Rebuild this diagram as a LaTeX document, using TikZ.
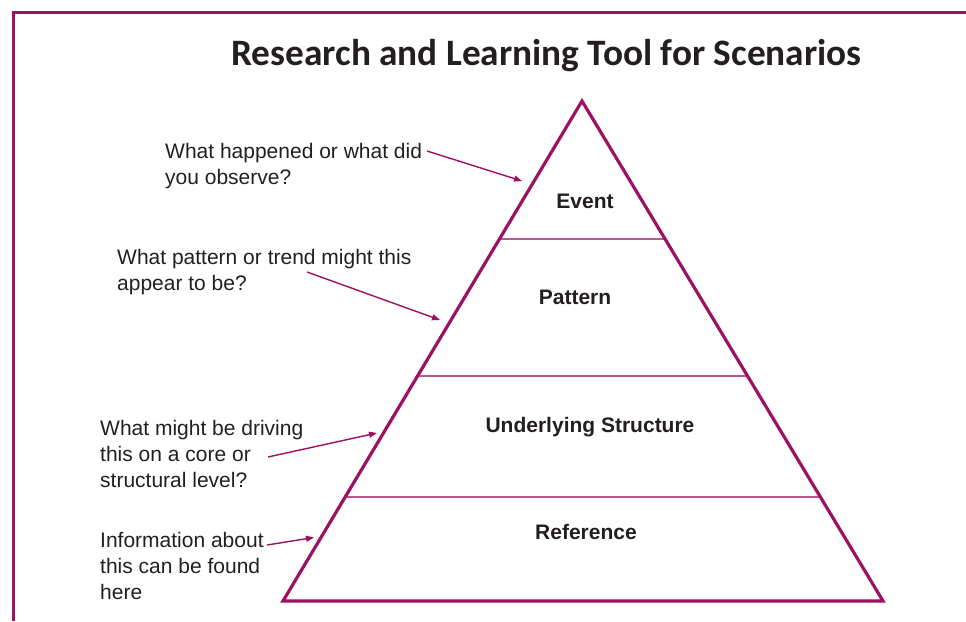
\documentclass[tikz,border=0pt]{standalone}
\usepackage{fontspec}
\setmainfont{Liberation Sans}
\newfontfamily\titlefont{Carlito}
\usepackage{xcolor}
\usetikzlibrary{arrows.meta}
\definecolor{plum}{RGB}{158,16,96}
\definecolor{ink}{RGB}{35,31,32}

\begin{document}
\begin{tikzpicture}[x=1pt,y=-1pt,
	question/.style={anchor=north west,align=left,inner sep=0pt,text=ink,font=\fontsize{21}{26}\selectfont},
	level/.style={anchor=base,inner sep=0pt,text=ink,font=\fontsize{21}{26}\selectfont\bfseries},
	divider/.style={plum!70,line width=1.2pt},
	pointer/.style={plum,line width=1.4pt,-{Triangle[length=8pt,width=6pt]}}]
	\useasboundingbox (0,0) rectangle (966,621);
	% frame
	\draw[plum,line width=3pt] (966,12) -- (13,12) -- (13,621);
	\node[anchor=base,inner sep=0pt,text=ink,font=\titlefont\fontsize{37.3}{44}\selectfont\bfseries] (title) at (546.5,65) {Research and Learning Tool for Scenarios};
	% pyramid
	\coordinate (apex) at (582,101);
	\coordinate (baseL) at (283,601);
	\coordinate (baseR) at (883,601);
	\draw[divider] (499.5,239) -- (665,239);
	\draw[divider] (417.5,376) -- (747.5,376);
	\draw[divider] (345,497) -- (820,497);
	\draw[plum,line width=3.2pt] (apex) -- (baseL) -- (baseR) -- cycle;
	\node[level] (event) at (585,208.5) {Event};
	\node[level] (pattern) at (575,304.5) {Pattern};
	\node[level] (structure) at (590,432.5) {Underlying Structure};
	\node[level] (reference) at (586,539) {Reference};
	% questions
	\node[question] (askEvent) at (165,143.5) {What happened or what did\\you observe?};
	\node[question] (askPattern) at (117,249) {What pattern or trend might this\\appear to be?};
	\node[question] (askStructure) at (100,420) {What might be driving\\this on a core or\\structural level?};
	\node[question] (askReference) at (100,532) {Information about\\this can be found\\here};
	% pointers
	\coordinate (fromEvent) at (427,151);
	\coordinate (toEvent) at (522,181);
	\coordinate (fromPattern) at (307,272);
	\coordinate (toPattern) at (440,320);
	\coordinate (fromStructure) at (268,457);
	\coordinate (toStructure) at (377,433);
	\coordinate (fromReference) at (267,545);
	\coordinate (toReference) at (314,537.5);
	\draw[pointer] (fromEvent) -- (toEvent);
	\draw[pointer] (fromPattern) -- (toPattern);
	\draw[pointer] (fromStructure) -- (toStructure);
	\draw[pointer] (fromReference) -- (toReference);
\end{tikzpicture}
\end{document}
